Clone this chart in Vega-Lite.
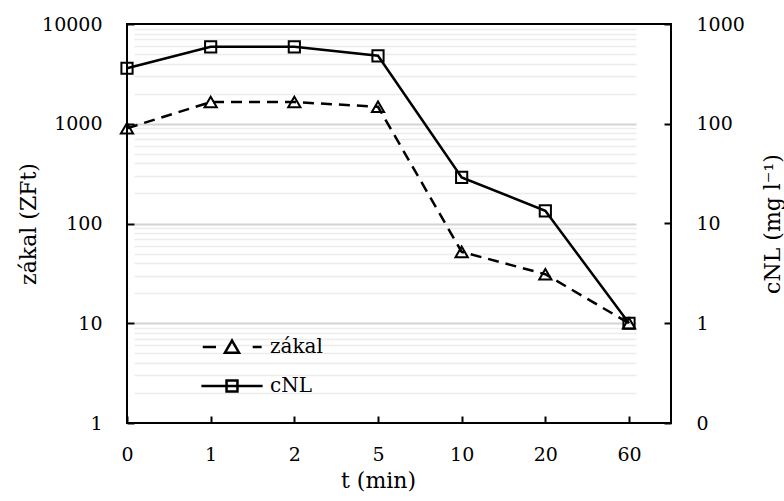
{
  "$schema": "https://vega.github.io/schema/vega-lite/v6.json",
  "width": 544,
  "height": 399,
  "autosize": {"type": "none"},
  "padding": {"left": 127, "top": 24, "right": 113, "bottom": 78},
  "background": "white",
  "config": {
    "font": "DejaVu Serif",
    "view": {"stroke": "black", "strokeWidth": 2},
    "axis": {
      "labelFont": "DejaVu Serif",
      "labelFontSize": 19,
      "labelColor": "black",
      "titleFont": "DejaVu Serif",
      "titleFontSize": 22,
      "titleFontWeight": "normal",
      "titleColor": "black",
      "domain": false,
      "ticks": true,
      "tickColor": "black",
      "tickWidth": 2,
      "tickSize": 7,
      "offset": -7
    },
    "legend": {
      "labelFont": "DejaVu Serif",
      "labelFontSize": 20,
      "labelColor": "black"
    }
  },
  "data": {
    "values": [
      {"t": "0", "series": "zákal", "value": 900},
      {"t": "1", "series": "zákal", "value": 1650},
      {"t": "2", "series": "zákal", "value": 1650},
      {"t": "5", "series": "zákal", "value": 1480},
      {"t": "10", "series": "zákal", "value": 52},
      {"t": "20", "series": "zákal", "value": 31},
      {"t": "60", "series": "zákal", "value": 10},
      {"t": "0", "series": "cNL", "value": 360},
      {"t": "1", "series": "cNL", "value": 590},
      {"t": "2", "series": "cNL", "value": 590},
      {"t": "5", "series": "cNL", "value": 480},
      {"t": "10", "series": "cNL", "value": 29},
      {"t": "20", "series": "cNL", "value": 13.4},
      {"t": "60", "series": "cNL", "value": 1}
    ]
  },
  "encoding": {
    "x": {
      "field": "t",
      "type": "ordinal",
      "scale": {
        "type": "point",
        "domain": ["0", "1", "2", "5", "10", "20", "60"],
        "range": [0, 502],
        "padding": 0
      },
      "axis": {
        "title": "t (min)",
        "labelAngle": 0,
        "labelPadding": 22,
        "titlePadding": 6,
        "grid": false
      }
    }
  },
  "layer": [
    {
      "transform": [{"filter": "datum.series === 'zákal'"}],
      "encoding": {
        "y": {
          "field": "value",
          "type": "quantitative",
          "scale": {"type": "log", "domain": [1, 10000], "nice": false},
          "axis": {
            "orient": "left",
            "title": "zákal (ZFt)",
            "values": [1, 2, 3, 4, 5, 6, 7, 8, 9, 10, 20, 30, 40, 50, 60, 70, 80, 90, 100, 200, 300, 400, 500, 600, 700, 800, 900, 1000, 2000, 3000, 4000, 5000, 6000, 7000, 8000, 9000, 10000],
            "labelExpr": "indexof([1, 10, 100, 1000, 10000], datum.value) >= 0 ? format(datum.value, 'd') : ''",
            "labelPadding": 25,
            "titlePadding": 1,
            "grid": true,
            "gridColor": {"condition": {"test": "indexof([1, 10, 100, 1000, 10000], datum.value) >= 0", "value": "#d4d4d4"}, "value": "#ececec"},
            "gridWidth": {"condition": {"test": "indexof([1, 10, 100, 1000, 10000], datum.value) >= 0", "value": 2}, "value": 1.5},
            "gridOpacity": {"condition": {"test": "datum.value === 1 || datum.value === 10000", "value": 0}, "value": 1},
            "tickOpacity": {"condition": {"test": "indexof([1, 10, 100, 1000, 10000], datum.value) >= 0", "value": 1}, "value": 0}
          }
        }
      },
      "layer": [
        {"mark": {"type": "line", "color": "black", "strokeWidth": 2.5, "strokeDash": [11, 7]}},
        {"mark": {"type": "point", "shape": "triangle-up", "filled": false, "color": "black", "size": 150, "strokeWidth": 2, "opacity": 1}}
      ]
    },
    {
      "transform": [{"filter": "datum.series === 'cNL'"}],
      "encoding": {
        "y": {
          "field": "value",
          "type": "quantitative",
          "scale": {"type": "log", "domain": [0.1, 1000], "nice": false},
          "axis": {
            "orient": "right",
            "title": "cNL (mg l⁻¹)",
            "titleAngle": 270,
            "titleBaseline": "top",
            "values": [0.1, 1, 10, 100, 1000],
            "labelExpr": "datum.value < 1 ? '0' : format(datum.value, 'd')",
            "labelPadding": 25,
            "titlePadding": 18,
            "grid": false
          }
        }
      },
      "layer": [
        {"mark": {"type": "line", "color": "black", "strokeWidth": 2.5}},
        {"mark": {"type": "point", "shape": "square", "filled": false, "color": "black", "size": 125, "strokeWidth": 2, "opacity": 1}}
      ]
    },
    {
      "transform": [{"filter": "false"}],
      "mark": {"type": "point", "filled": false, "color": "black", "opacity": 1},
      "encoding": {
        "shape": {
          "field": "series",
          "type": "nominal",
          "scale": {
            "domain": ["zákal", "cNL"],
            "range": [
              "M-1.5,0H-0.82M1.06,0H1.52M-0.36,0.29L0,-0.33L0.36,0.29Z",
              "M-1.57,0H1.57M-0.28,-0.28H0.28V0.28H-0.28Z"
            ]
          },
          "legend": {
            "title": null,
            "orient": "none",
            "legendX": 84,
            "legendY": 302,
            "direction": "vertical",
            "padding": 0,
            "rowPadding": 7,
            "symbolSize": 1521,
            "symbolStrokeWidth": 2.5,
            "symbolStrokeColor": "black",
            "symbolFillColor": "transparent",
            "symbolOpacity": 1,
            "labelOffset": 17
          }
        }
      }
    }
  ],
  "resolve": {"scale": {"y": "independent", "shape": "independent"}}
}
